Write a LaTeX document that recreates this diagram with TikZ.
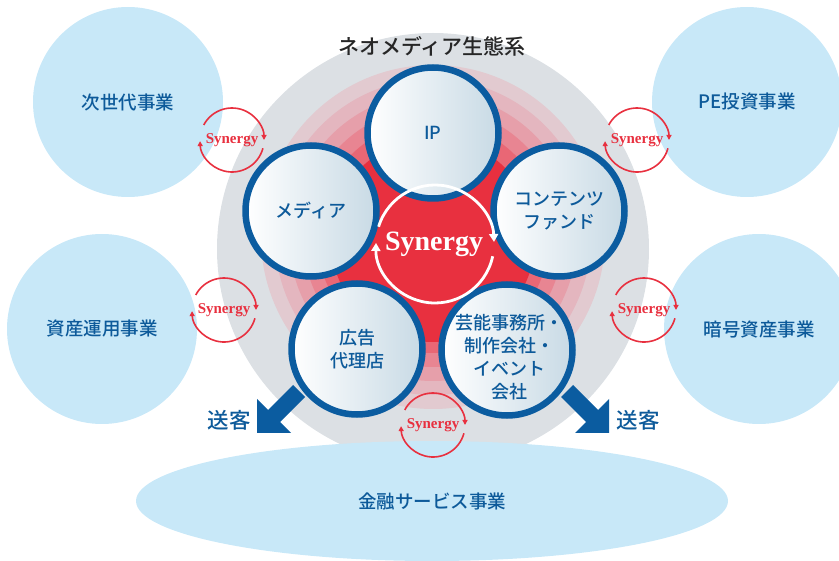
\documentclass[tikz,border=0pt]{standalone}
\usepackage{fontspec}
\newfontfamily\jp{Noto Sans CJK JP Medium}
\newfontfamily\synfont{Liberation Serif}
\usetikzlibrary{arrows.meta,shapes.geometric}
\definecolor{lblue}{HTML}{C8E8F8}
\definecolor{dblue}{HTML}{0B5CA0}
\definecolor{tblue}{HTML}{0D5A9A}
\definecolor{grayring}{HTML}{DCE0E4}
\definecolor{synred}{HTML}{E8303F}
\definecolor{cfill}{HTML}{C8DAE5}
\definecolor{pkA}{HTML}{E2CAD0}
\definecolor{pkB}{HTML}{E4B6BF}
\definecolor{pkC}{HTML}{E69FAA}
\definecolor{pkD}{HTML}{E88592}
\definecolor{pkE}{HTML}{E96775}
\definecolor{titlec}{HTML}{262626}
\tikzset{
  bgc/.style={circle,fill=lblue,minimum size=190pt,inner sep=0pt,text=tblue,
    font=\jp\fontsize{18.5}{22}\selectfont},
  unitc/.style={circle,draw=dblue,line width=6.5pt,minimum size=131pt,inner sep=0pt,
    left color=white,right color=cfill,text=tblue,align=center,
    font=\jp\fontsize{18}{23}\selectfont},
  unittext/.style={text=tblue,align=center,inner sep=0pt,
    font=\jp\fontsize{18}{23}\selectfont},
  smallsyn/.style={inner sep=0pt,text=synred,font=\synfont\bfseries\fontsize{15}{15}\selectfont},
  synarcs/.style={draw=synred,line width=1.6pt,-{Triangle[length=5pt,width=5pt]}},
  bigsyn/.style={inner sep=0pt,text=white,
    font=\synfont\bfseries\fontsize{28}{28}\selectfont},
  corearc/.style={draw=white,line width=2.8pt,-{Triangle[length=8pt,width=9pt]}},
  sendtext/.style={inner sep=0pt,text=tblue,font=\jp\fontsize{21.5}{21}\selectfont},
  sendarrow/.style={fill=dblue}
}
\newcommand\synbadge[3]{%
  \node[smallsyn] (#1) at (#2,#3) {Synergy};
  \draw[synarcs] (#2,#3) ++(-152:32) arc[start angle=-152,end angle=0,radius=32];
  \draw[synarcs] (#2,#3) ++(15:32) arc[start angle=15,end angle=178,radius=32];
}
\begin{document}
\begin{tikzpicture}[x=1pt,y=-1pt]
\useasboundingbox (0,0) rectangle (839,561);
% outer business circles
\node[bgc] (nextgen) at (128,102) {次世代事業};
\node[bgc] (pe) at (747,102) {PE投資事業};
\node[bgc] (asset) at (102,329) {資産運用事業};
\node[bgc] (crypto) at (759,329) {暗号資産事業};
% ecosystem rings
\fill[grayring] (433,249) circle[radius=216];
\fill[pkA] (433,237) circle[radius=172];
\fill[pkB] (433,237) circle[radius=158];
\fill[pkC] (433,237) circle[radius=144];
\fill[pkD] (433,237) circle[radius=130];
\fill[pkE] (433,237) circle[radius=116];
\fill[synred] (433,240) circle[radius=102];
% financial services ellipse
\node[ellipse,fill=lblue,minimum width=592pt,minimum height=120pt,inner sep=0pt,
  text=tblue,font=\jp\fontsize{18.5}{22}\selectfont] (fin) at (432,501) {金融サービス事業};
% five units
\node[unitc] (ip) at (433,133) {IP};
\node[unitc] (media) at (311,211) {メディア};
\node[unitc] (fund) at (559,211) {コンテンツ\\ファンド};
\node[unitc] (ad) at (357,349) {広告\\代理店};
\node[unitc] (ent) at (507,350) {};
\node[unittext] (enttext) at (509,357) {芸能事務所・\\制作会社・\\イベント\\会社};
% core synergy
\node[bigsyn] (core) at (434,244) {Synergy};
\draw[corearc] (435,244) ++(-163:59) arc[start angle=-163,end angle=-2,radius=59];
\draw[corearc] (435,244) ++(12:59) arc[start angle=12,end angle=181,radius=59];
% title
\node[inner sep=0pt,text=titlec,font=\jp\fontsize{21}{21}\selectfont] (title) at (432,46) {ネオメディア生態系};
% send arrows
\fill[sendarrow] (257,433) -- ++(0,-34) -- ++(11,11) -- ++(25,-25) -- ++(12,12) -- ++(-25,25) -- ++(11,11) -- cycle;
\fill[sendarrow] (609,433) -- ++(0,-34) -- ++(-11,11) -- ++(-25,-25) -- ++(-12,12) -- ++(25,25) -- ++(-11,11) -- cycle;
\node[sendtext] (sendl) at (229,420) {送客};
\node[sendtext] (sendr) at (638,420) {送客};
% synergy badges
\synbadge{s1}{232}{140}
\synbadge{s2}{637}{140}
\synbadge{s3}{224}{310}
\synbadge{s4}{644}{310}
\synbadge{s5}{433}{425}
\end{tikzpicture}
\end{document}
